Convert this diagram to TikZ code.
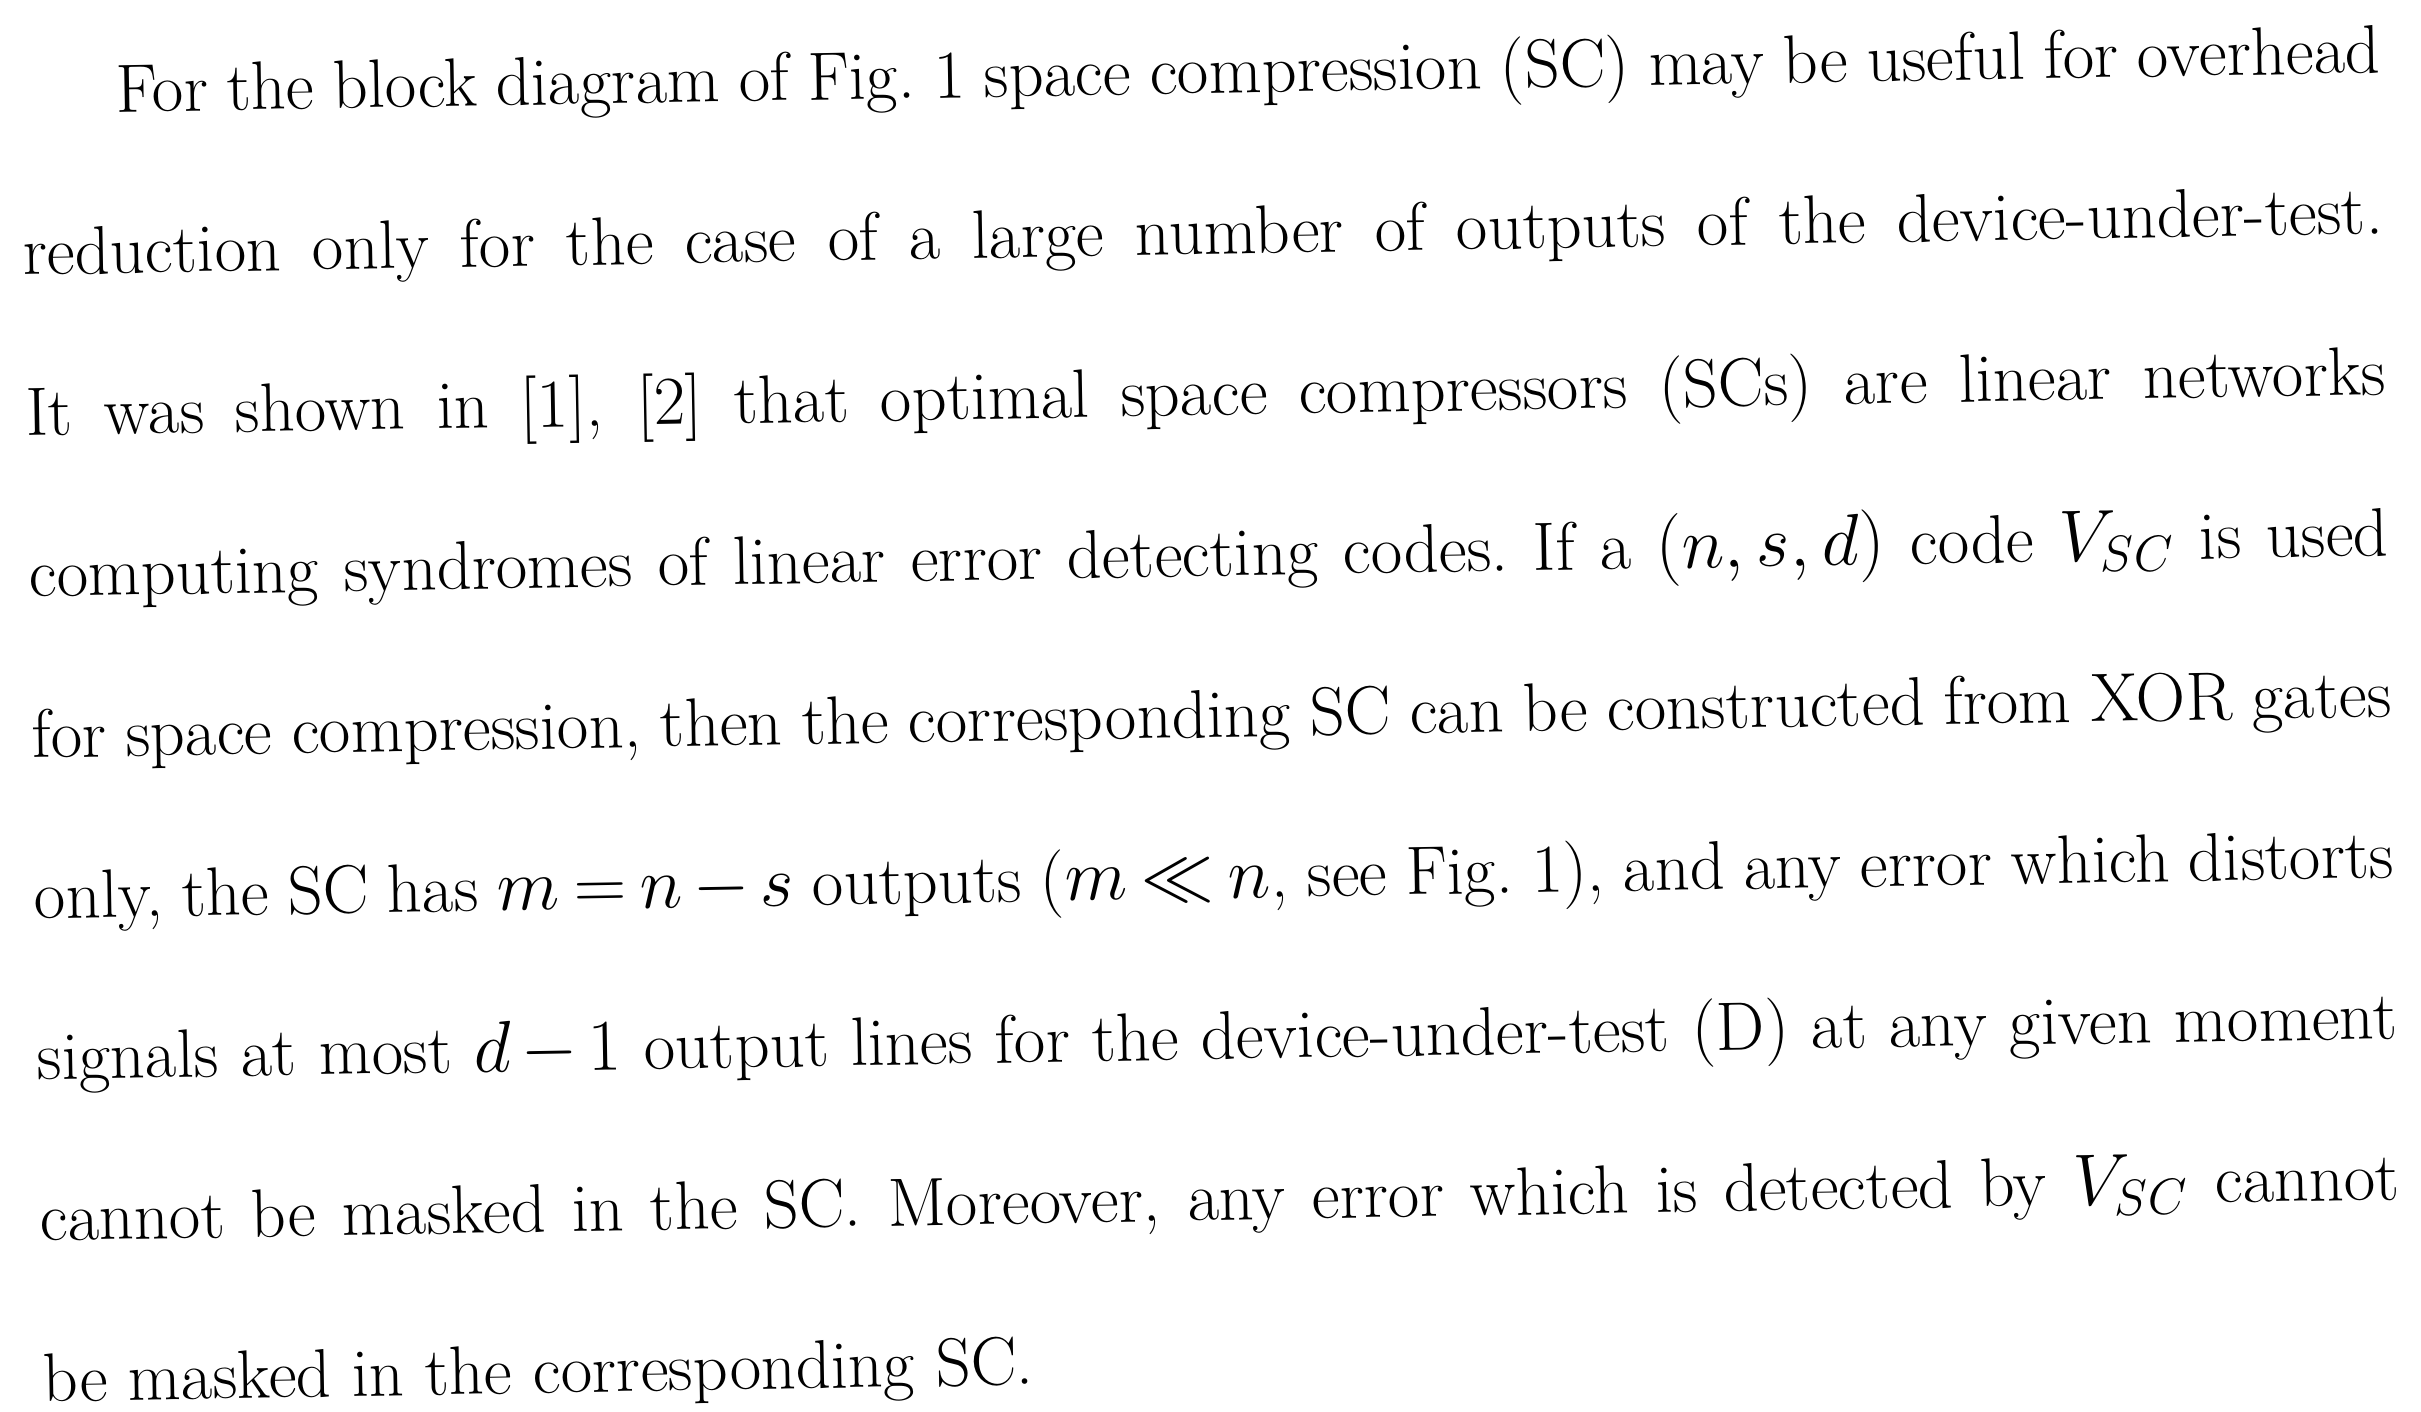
\documentclass[tikz,border=0pt]{standalone}
\usetikzlibrary{positioning}

\newcommand{\parwd}{23.6cm}
\thickmuskip=3.5mu
\medmuskip=2.5mu
\tikzset{
  txtline/.style={anchor=base west, inner sep=0pt,
    font=\fontsize{19.5}{22}\selectfont},
}

\begin{document}
\begin{tikzpicture}
  \useasboundingbox (0,0) rectangle (24.21,14.11);

  % scanned page is turned by about one degree
  \begin{scope}[shift={(0.23,11.36)}, rotate=1, transform shape]
    \node[txtline] (l1) at (0,1.61) {\hbox to \parwd{\hspace*{0.96cm}For the block diagram of Fig.~1 space compression (SC) may be useful for overhead}};
    \node[txtline] (l2) at (0,0) {\hbox to \parwd{reduction only for the case of a large number of outputs of the device-under-test.}};
    \node[txtline] (l3) at (0,-1.61) {\hbox to \parwd{It was shown in [1], [2] that optimal space compressors (SCs) are linear networks}};
    \node[txtline] (l4) at (0,-3.22) {\hbox to \parwd{computing syndromes of linear error detecting codes.\ If a ${(n,s,d)}$ code $V_{SC}$ is used}};
    \node[txtline] (l5) at (0,-4.83) {\hbox to \parwd{for space compression, then the corresponding SC can be constructed from XOR gates}};
    \node[txtline] (l6) at (0,-6.44) {\hbox to \parwd{only, the SC has ${m=n-s}$ outputs (${m\ll n}$, see Fig.~1), and any error which distorts}};
    \node[txtline] (l7) at (0,-8.05) {\hbox to \parwd{signals at most ${d-1}$ output lines for the device-under-test (D) at any given moment}};
    \node[txtline] (l8) at (0,-9.66) {\hbox to \parwd{cannot be masked in the SC. Moreover, any error which is detected by $V_{SC}$ cannot}};
    \node[txtline] (l9) at (0,-11.27) {be masked in the corresponding SC.};
  \end{scope}

\end{tikzpicture}
\end{document}
